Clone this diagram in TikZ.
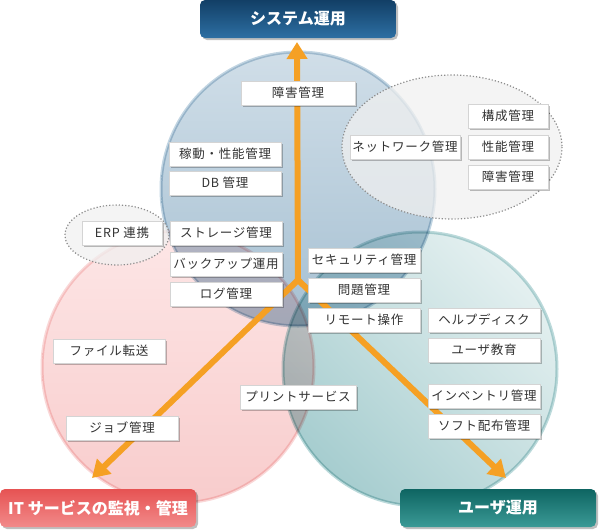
\documentclass[tikz,border=0pt]{standalone}
\usepackage{fontspec}
\setmainfont{Noto Sans CJK JP}
\usetikzlibrary{arrows.meta,shadows}
\definecolor{HeadBlueA}{HTML}{123F66}
\definecolor{HeadBlueB}{HTML}{2D6FA3}
\definecolor{HeadRedA}{HTML}{E65353}
\definecolor{HeadRedB}{HTML}{F28A8A}
\definecolor{HeadTealA}{HTML}{0E6562}
\definecolor{HeadTealB}{HTML}{3B9A96}
\definecolor{SysTop}{HTML}{D0DEE8}
\definecolor{SysBot}{HTML}{A6C0D2}
\definecolor{SysRim}{HTML}{C2D5E2}
\definecolor{SvcTop}{HTML}{FDE6E6}
\definecolor{SvcBot}{HTML}{F8CCCC}
\definecolor{SvcRim}{HTML}{F9D8D8}
\definecolor{UsrTop}{HTML}{E4F0F0}
\definecolor{UsrBot}{HTML}{A6CDCF}
\definecolor{UsrRim}{HTML}{BCDADB}
\definecolor{FlowOrange}{HTML}{F5A024}
\definecolor{BoxLine}{HTML}{D4D4D4}
\definecolor{BoxText}{HTML}{333333}

\begin{document}
\begin{tikzpicture}[x=1pt,y=-1pt,
    item/.style={draw=BoxLine,fill=white,minimum width=112pt,minimum height=24pt,inner sep=0pt,text=BoxText,font=\fontsize{12.5}{12.5}\selectfont\addfontfeature{LetterSpace=6},drop shadow={shadow xshift=1.5pt,shadow yshift=-1.5pt,fill=black,opacity=.25}},
    header/.style={rounded corners=5pt,minimum width=196pt,minimum height=38pt,inner sep=0pt,text=white,font=\bfseries\fontsize{16}{16}\selectfont,drop shadow={shadow xshift=2pt,shadow yshift=-2pt,fill=black,opacity=.25}},
    cloud/.style={fill=black!6,fill opacity=.75,draw=black!45,dotted,line width=1.2pt},
    flow/.style={draw=FlowOrange,line width=6pt,-{Triangle[width=20pt,length=17pt]}}]
        \useasboundingbox (0,0) rectangle (600,531);
        % circles
        \begin{scope}[blend mode=multiply]
        \shade[top color=SvcTop,bottom color=SvcBot](178, 367) circle[radius=136];
        \draw[SvcRim,line width=3pt](178, 367) circle[radius=136];
        \shade[top color=UsrTop,bottom color=UsrBot,shading angle=-45](420, 369) circle[radius=137];
        \draw[UsrRim,line width=3pt](420, 369) circle[radius=137];
        \shade[top color=SysTop,bottom color=SysBot](298, 189) circle[radius=137];
        \draw[SysRim,line width=3pt](298, 189) circle[radius=137];
        \end{scope}
        \path[cloud](452, 147) ellipse[x radius=110,y radius=72];
        \path[cloud](117, 235) ellipse[x radius=52,y radius=30];
        % arrows
        \coordinate (hub) at (298, 280);
        \coordinate (tipU) at (297, 42);
        \coordinate (tipL) at (92, 478);
        \coordinate (tipR) at (506, 478);
        \draw[flow](hub) -- (tipU);
        \draw[flow](hub) -- (tipL);
        \draw[flow](hub) -- (tipR);
        % items
        \node[item,minimum width=114pt] (faultA) at (298, 93) {障害管理};
        \node[item] (perf) at (225, 154) {稼動・性能管理};
        \node[item] (db) at (225, 183) {DB 管理};
        \node[item] (storage) at (226, 233) {ストレージ管理};
        \node[item] (backup) at (226, 264) {バックアップ運用};
        \node[item] (log) at (226, 294) {ログ管理};
        \node[item,minimum width=80pt] (erp) at (122, 233) {ERP 連携};
        \node[item,minimum width=110pt] (net) at (405, 147) {ネットワーク管理};
        \node[item,minimum width=80pt] (config) at (508, 116) {構成管理};
        \node[item,minimum width=80pt] (netperf) at (508, 147) {性能管理};
        \node[item,minimum width=80pt] (faultB) at (508, 177) {障害管理};
        \node[item] (security) at (364, 260) {セキュリティ管理};
        \node[item] (problem) at (364, 290) {問題管理};
        \node[item] (remote) at (364, 320) {リモート操作};
        \node[item] (help) at (484, 320) {ヘルプディスク};
        \node[item] (edu) at (484, 350) {ユーザ教育};
        \node[item] (inv) at (484, 396) {インベントリ管理};
        \node[item] (soft) at (484, 426) {ソフト配布管理};
        \node[item,minimum width=116pt] (print) at (298, 397) {プリントサービス};
        \node[item] (file) at (109, 351) {ファイル転送};
        \node[item] (job) at (122, 428) {ジョブ管理};
        % headers
        \node[header,top color=HeadBlueA,bottom color=HeadBlueB] (sysop) at (298, 19) {システム運用};
        \node[header,top color=HeadRedA,bottom color=HeadRedB] (itsvc) at (98, 508) {IT サービスの監視・管理};
        \node[header,top color=HeadTealA,bottom color=HeadTealB] (userop) at (498, 508) {ユーザ運用};
    \end{tikzpicture}
\end{document}
